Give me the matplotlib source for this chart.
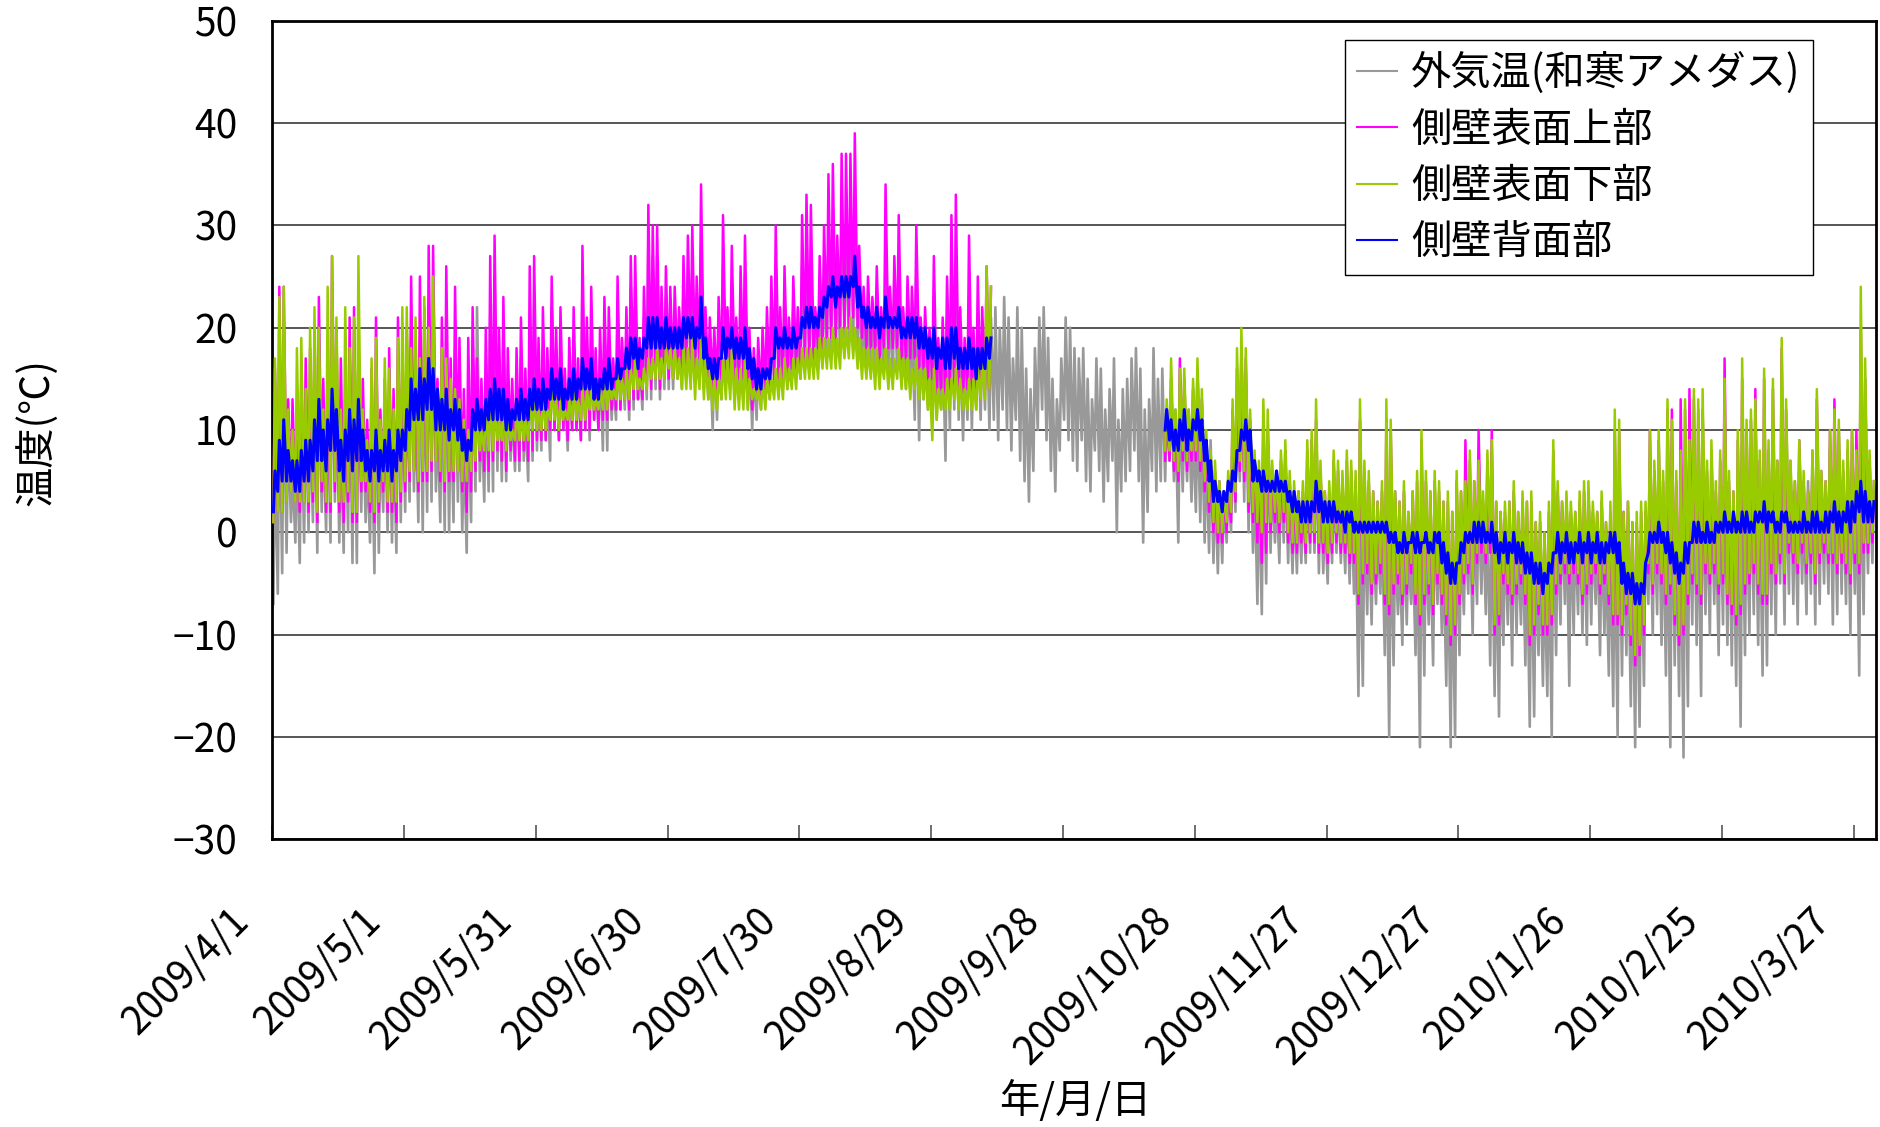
import numpy as np
import matplotlib
matplotlib.use('Agg')
import matplotlib.pyplot as plt
import matplotlib.dates as mdates
import matplotlib.transforms as mtransforms
from matplotlib.lines import Line2D
from datetime import datetime

plt.rcParams['font.family'] = ['Noto Sans CJK JP', 'DejaVu Sans']

# ---------------- data (daily low / high, deg C) ----------------
START = "2009/4/1"
END = "2010/4/1"
tick_labels = ["2009/4/1", "2009/5/1", "2009/5/31", "2009/6/30", "2009/7/30",
               "2009/8/29", "2009/9/28", "2009/10/28", "2009/11/27", "2009/12/27",
               "2010/1/26", "2010/2/25", "2010/3/27"]
y_ticks = [-30, -20, -10, 0, 10, 20, 30, 40, 50]
series_names = ["外気温(和寒アメダス)", "側壁表面上部", "側壁表面下部", "側壁背面部"]
series_colors = ["#999999", "#FF00FF", "#99CC00", "#0000FF"]

# outside air temperature, whole year (2009/4/1 .. 2010/3/31)
air_high = [
    8, 14, 16, 10, 6, 9, 12, 13, 11, 15, 17, 10, 14, 19, 15, 9, 13, 16, 14, 17, 12, 7, 11, 15, 9, 12, 13, 10, 15, 14,
    15, 20, 13, 19, 17, 22, 20, 11, 16, 20, 13, 18, 14, 9, 12, 17, 22, 12, 15, 21, 25, 17, 19, 14, 12, 15, 17, 12, 20, 22, 15,
    18, 15, 22, 17, 18, 14, 16, 19, 15, 24, 18, 20, 15, 17, 20, 18, 15, 21, 17, 19, 24, 24, 17, 21, 28, 27, 27, 21, 23, 22,
    22, 20, 24, 25, 26, 22, 28, 20, 18, 17, 20, 26, 20, 24, 19, 23, 25, 18, 16, 17, 18, 20, 23, 26, 20, 24, 19, 22, 20, 26, 27,
    26, 20, 23, 25, 28, 29, 25, 30, 29, 30, 31, 24, 21, 22, 21, 23, 20, 27, 22, 24, 26, 20, 22, 21, 25, 19, 20, 18, 23, 17, 19,
    21, 25, 26, 19, 17, 23, 18, 21, 19, 22, 21, 22, 20, 23, 21, 17, 22, 20, 16, 14, 18, 21, 22, 19, 15, 13, 17, 21, 20, 18,
    17, 18, 15, 13, 17, 16, 12, 14, 17, 11, 14, 15, 17, 18, 16, 12, 13, 18, 15, 16, 12, 14, 12, 13, 11, 12, 10, 12, 11, 8, 9,
    5, 4, 3, 5, 9, 13, 17, 15, 10, 6, 5, 8, 9, 5, 4, 6, 7, 4, 3, 3, 3, 6, 7, 9, 5, 2, 3, 5, 4, 3,
    4, 3, 2, 1, 2, 1, 0, -1, 1, 2, 0, -1, -2, 0, -2, -1, 1, 2, 0, -1, 1, 0, -2, -1, -3, 1, -1, 0, 2, 1, 3,
    2, 2, 3, -1, -2, 0, 1, 1, -1, 0, -1, 0, -3, -2, -4, -1, 2, 1, 2, 3, 1, 0, 2, 1, 2, 0, 1, 0, -2, 0, 1,
    3, -1, 0, -2, -2, -1, 0, 3, 2, 4, 2, 4, 5, 1, 3, 4, 3, 5, 4, 6, 3, 4, 2, 3, 6, 3, 2, 4,
    5, 4, 5, 6, 3, 6, 4, 5, 3, 7, 6, 7, 4, 6, 3, 5, 8, 7, 5, 4, 8, 6, 7, 4, 5, 6, 5, 8, 7, 5, 4]
air_low = [
    -7, -6, -4, -2, 1, -1, -3, -1, 0, 1, -2, 2, 0, -1, 3, -1, -2, 0, -3, -3, 2, 1, -1, -4, -2, 2, 0, -1, -2, 1,
    2, 3, 4, 1, 0, 2, 3, 4, 1, 0, 0, 1, 3, 0, -2, 1, 4, 5, 3, 4, 4, 6, 5, 5, 7, 6, 6, 7, 5, 7, 8,
    8, 9, 7, 10, 9, 10, 8, 10, 10, 9, 10, 9, 11, 10, 8, 8, 11, 11, 12, 12, 11, 12, 13, 12, 13, 13, 14, 13, 14, 14,
    14, 15, 14, 15, 16, 15, 15, 14, 13, 10, 11, 13, 15, 14, 13, 13, 14, 12, 10, 11, 12, 13, 13, 14, 14, 14, 14, 15, 15, 15, 16,
    16, 16, 16, 17, 17, 18, 18, 18, 19, 19, 19, 18, 17, 16, 16, 16, 15, 16, 16, 15, 16, 15, 14, 14, 11, 9, 13, 12, 12, 11, 12,
    7, 10, 12, 11, 9, 11, 10, 12, 11, 12, 10, 11, 9, 12, 10, 8, 11, 7, 5, 3, 6, 10, 12, 9, 6, 4, 8, 11, 9, 7,
    6, 9, 5, 4, 8, 6, 3, 5, 7, 0, 4, 5, 6, 8, 5, -1, 2, 6, 4, 5, 5, 7, 5, -1, 4, 5, 3, 2, 1, -1, -2,
    -3, -4, -3, -1, 0, 2, 5, 3, 0, -2, -7, -8, -5, -2, -1, -3, -1, -3, -4, -4, -3, -3, -2, -2, -4, -4, -5, -3, -2, -3,
    -4, -5, -6, -16, -15, -8, -9, -7, -6, -12, -20, -13, -8, -11, -9, -7, -12, -21, -14, -9, -13, -7, -10, -15, -21, -20, -12, -8, -6, -10, -7,
    -6, -8, -13, -16, -18, -11, -9, -13, -10, -9, -13, -19, -18, -12, -15, -16, -20, -12, -9, -7, -15, -10, -8, -10, -11, -9, -7, -12, -10, -14, -17,
    -20, -14, -12, -17, -21, -19, -15, -7, -10, -8, -11, -14, -21, -13, -16, -22, -17, -9, -11, -16, -8, -10, -7, -12, -9, -11, -13, -15,
    -19, -12, -10, -8, -11, -14, -13, -8, -10, -5, -9, -6, -7, -9, -5, -8, -6, -9, -7, -5, -6, -9, -8, -6, -7, -10, -6, -14, -8, -4, -3]

# wall sensors: period 1 = 2009/4/1 .. 2009/9/11, period 2 = 2009/10/21 .. 2010/3/31
P1_START = "2009/4/1"
P2_START = "2009/10/21"

upper_high_1 = [
    16, 24, 24, 13, 13, 9, 15, 17, 18, 20, 23, 15, 18, 27, 20, 17, 14, 21, 22, 18, 15, 11, 16, 21, 12, 15, 18, 14, 21, 17,
    20, 25, 18, 25, 22, 28, 28, 15, 21, 26, 17, 24, 19, 14, 19, 22, 17, 15, 20, 27, 29, 20, 23, 18, 15, 18, 21, 16, 26, 27, 19,
    22, 18, 25, 20, 22, 16, 19, 22, 17, 28, 21, 24, 18, 20, 23, 22, 17, 25, 19, 22, 27, 27, 19, 24, 32, 30, 30, 24, 26, 24,
    24, 22, 27, 29, 30, 25, 34, 22, 21, 20, 23, 31, 22, 28, 21, 26, 29, 20, 18, 19, 20, 22, 25, 30, 22, 26, 21, 25, 22, 31, 33,
    32, 22, 27, 30, 35, 36, 29, 37, 37, 37, 39, 28, 24, 25, 23, 26, 22, 34, 24, 27, 31, 22, 25, 24, 30, 21, 22, 20, 27, 19, 21,
    25, 31, 33, 22, 19, 29, 20, 25, 22, 26, 24]
upper_low_1 = [
    1, 2, 2, 3, 4, 3, 2, 3, 2, 3, 1, 4, 2, 2, 4, 2, 1, 3, 1, 1, 4, 4, 2, 1, 2, 4, 2, 2, 1, 3,
    4, 5, 6, 4, 5, 5, 6, 7, 5, 4, 5, 5, 6, 4, 2, 4, 6, 7, 6, 6, 7, 8, 7, 6, 8, 7, 7, 8, 7, 8, 9,
    9, 9, 10, 10, 9, 10, 9, 10, 10, 9, 10, 10, 11, 10, 11, 11, 12, 12, 12, 13, 12, 13, 13, 13, 14, 14, 15, 14, 15, 15,
    15, 16, 16, 16, 17, 16, 17, 16, 15, 14, 14, 15, 16, 16, 15, 15, 15, 14, 12, 13, 13, 14, 14, 15, 15, 15, 15, 16, 16, 16, 17,
    17, 17, 18, 18, 19, 19, 19, 20, 20, 20, 21, 20, 19, 18, 18, 18, 17, 18, 18, 18, 18, 17, 17, 17, 17, 16, 16, 15, 15, 13, 14,
    13, 14, 14, 14, 13, 14, 13, 13, 13, 14, 14]
lower_high_1 = [
    17, 23, 24, 12, 10, 18, 19, 14, 20, 22, 20, 12, 24, 27, 21, 12, 22, 18, 21, 27, 12, 9, 17, 19, 11, 17, 16, 12, 19, 22,
    22, 18, 21, 17, 23, 20, 25, 14, 18, 17, 15, 14, 13, 11, 10, 12, 11, 10, 12, 13, 12, 11, 13, 11, 10, 12, 12, 11, 13, 13, 12,
    13, 12, 14, 13, 13, 12, 13, 14, 13, 14, 14, 14, 13, 14, 15, 15, 14, 16, 15, 16, 16, 17, 15, 16, 17, 17, 18, 17, 18, 18,
    18, 17, 18, 18, 19, 17, 19, 17, 16, 15, 15, 17, 17, 18, 16, 16, 17, 15, 14, 14, 15, 15, 15, 16, 16, 17, 16, 17, 17, 18, 18,
    18, 18, 19, 19, 19, 20, 19, 20, 20, 21, 20, 19, 18, 18, 18, 18, 17, 18, 17, 17, 18, 17, 17, 16, 17, 16, 16, 15, 16, 14, 14,
    15, 15, 16, 15, 14, 15, 15, 16, 17, 26, 24]
lower_low_1 = [
    1, 2, 2, 3, 4, 3, 3, 3, 3, 4, 2, 5, 3, 3, 5, 3, 3, 4, 2, 2, 5, 5, 3, 2, 3, 5, 3, 3, 3, 4,
    5, 6, 6, 5, 6, 6, 7, 7, 6, 5, 6, 6, 6, 5, 5, 6, 7, 8, 8, 8, 8, 9, 9, 8, 9, 9, 9, 9, 9, 10, 10,
    10, 10, 11, 11, 10, 11, 11, 11, 11, 11, 11, 12, 12, 12, 12, 12, 13, 13, 13, 13, 13, 14, 14, 14, 14, 15, 15, 15, 15, 16,
    15, 15, 14, 14, 14, 13, 14, 13, 13, 12, 12, 13, 13, 13, 12, 12, 12, 12, 13, 13, 12, 12, 13, 13, 13, 13, 14, 14, 14, 15, 15,
    15, 15, 15, 16, 16, 16, 16, 16, 17, 17, 17, 16, 15, 15, 15, 14, 14, 15, 14, 14, 15, 14, 14, 13, 14, 13, 13, 12, 9, 11, 12,
    12, 12, 13, 12, 12, 12, 12, 12, 13, 13, 14]
back_high_1 = [
    6, 9, 11, 8, 7, 7, 8, 9, 9, 11, 13, 10, 11, 14, 12, 9, 10, 12, 11, 13, 10, 8, 8, 10, 8, 9, 10, 8, 10, 10,
    12, 15, 14, 16, 15, 17, 16, 14, 13, 14, 12, 13, 12, 10, 9, 12, 13, 12, 13, 14, 15, 14, 14, 13, 12, 13, 14, 13, 14, 15, 14,
    15, 14, 16, 15, 16, 14, 15, 16, 15, 17, 16, 17, 15, 15, 16, 17, 15, 17, 16, 18, 19, 19, 18, 19, 21, 21, 21, 20, 21, 20,
    20, 20, 21, 21, 21, 20, 23, 19, 17, 17, 17, 20, 19, 20, 19, 19, 20, 18, 17, 16, 16, 16, 17, 20, 19, 20, 19, 20, 19, 21, 22,
    22, 21, 22, 23, 24, 25, 24, 25, 25, 25, 27, 24, 22, 22, 21, 22, 21, 23, 21, 21, 22, 20, 21, 21, 21, 20, 20, 19, 20, 18, 19,
    19, 20, 20, 18, 18, 19, 18, 18, 18, 19, 19]
back_low_1 = [
    2, 4, 5, 5, 5, 4, 4, 5, 5, 6, 7, 7, 6, 8, 8, 6, 5, 7, 6, 7, 7, 6, 5, 6, 5, 6, 6, 5, 6, 7,
    8, 10, 11, 11, 11, 12, 12, 10, 10, 10, 9, 10, 9, 8, 7, 8, 10, 10, 10, 11, 11, 11, 11, 10, 10, 11, 11, 11, 11, 12, 12,
    12, 12, 13, 13, 13, 12, 13, 13, 13, 14, 14, 14, 13, 13, 14, 14, 14, 15, 15, 16, 16, 17, 16, 17, 18, 18, 18, 18, 18, 18,
    18, 18, 18, 19, 19, 18, 19, 17, 16, 15, 15, 17, 17, 18, 17, 17, 17, 16, 15, 14, 14, 15, 15, 17, 18, 18, 18, 18, 18, 19, 20,
    20, 20, 20, 21, 22, 23, 22, 23, 23, 23, 24, 22, 21, 20, 20, 20, 19, 20, 20, 20, 20, 19, 19, 19, 19, 18, 18, 17, 17, 16, 17,
    16, 16, 17, 16, 16, 16, 16, 15, 16, 16, 17]

upper_high_2 = [
    12, 15, 11, 17, 15, 11, 14, 16, 13, 9, 7,
    6, 5, 4, 5, 12, 16, 18, 17, 11, 7, 6, 11, 10, 6, 5, 7, 8, 5, 4, 4, 4, 8, 9, 11, 6, 4, 4, 7, 6, 5,
    7, 6, 5, 11, 6, 5, 4, 3, 4, 11, 10, 4, 3, 4, 2, 4, 5, 9, 5, 4, 5, 4, 3, 3, 2, 5, 4, 9, 7, 5, 10,
    3, 7, 10, 3, 2, 2, 3, 4, 2, 3, 3, 3, 1, 1, 0, 2, 8, 4, 3, 3, 2, 2, 3, 4, 4, 2, 2, 3, 1, 2, 10,
    10, 2, 3, 1, 1, 2, 2, 10, 6, 9, 5, 12, 12, 5, 13, 12, 14, 13, 12, 12, 6, 8, 4, 7, 17, 5, 4, 9,
    15, 10, 11, 14, 7, 15, 8, 14, 7, 18, 12, 6, 5, 9, 5, 4, 7, 13, 6, 5, 10, 13, 10, 6, 8, 10, 10, 20, 15, 7, 5]
upper_low_2 = [
    7, 7, 6, 5, 7, 6, 7, 7, 6, 4, 2,
    0, -1, -1, 0, 1, 3, 6, 5, 2, 1, -1, -3, -2, 0, 1, 0, 1, -1, -2, -2, -1, -2, -1, -1, -2, -2, -3, -2, -1, -2,
    -2, -3, -3, -7, -5, -4, -6, -5, -4, -7, -8, -6, -5, -7, -6, -4, -7, -9, -7, -6, -8, -5, -7, -9, -11, -10, -7, -5, -4, -6, -3,
    -2, -3, -2, -10, -9, -5, -6, -7, -6, -5, -7, -11, -10, -8, -10, -10, -9, -6, -5, -4, -5, -4, -5, -7, -6, -5, -4, -6, -5, -7, -9,
    -9, -10, -8, -11, -13, -12, -10, -4, -6, -4, -5, -7, -6, -9, -11, -10, -7, -5, -6, -7, -4, -5, -4, -6, -5, -7, -8, -9,
    -8, -6, -5, -4, -6, -7, -7, -4, -5, -3, -5, -2, -3, -4, -2, -4, -3, -5, -3, -2, -3, -3, -4, -3, -4, -5, -3, -4, -2, -2, -1]
lower_high_2 = [
    13, 17, 12, 16, 16, 12, 15, 17, 14, 10, 8,
    7, 5, 4, 6, 13, 18, 20, 18, 12, 8, 7, 13, 12, 7, 6, 8, 9, 6, 5, 4, 5, 9, 10, 13, 7, 4, 5, 8, 7, 6,
    8, 7, 6, 13, 7, 6, 4, 3, 5, 13, 11, 4, 3, 5, 2, 4, 6, 10, 6, 4, 6, 5, 3, 4, 2, 6, 4, 5, 8, 5, 7,
    4, 8, 9, 3, 2, 3, 3, 5, 2, 4, 3, 4, 1, 2, 0, 3, 9, 5, 3, 4, 3, 2, 4, 5, 5, 3, 2, 4, 1, 3, 12,
    11, 2, 3, 1, 2, 3, 3, 10, 7, 10, 6, 13, 11, 6, 8, 13, 9, 14, 13, 14, 7, 9, 5, 8, 15, 6, 4, 10,
    17, 11, 12, 13, 8, 16, 9, 15, 7, 19, 13, 7, 5, 9, 6, 4, 8, 14, 6, 5, 10, 12, 11, 7, 9, 10, 8, 24, 17, 8, 5]
lower_low_2 = [
    8, 8, 7, 6, 8, 7, 8, 8, 7, 5, 3,
    1, 0, 0, 1, 2, 4, 7, 6, 3, 2, 1, 0, 1, 1, 2, 1, 2, 0, -1, -1, 0, -1, 0, 0, -1, -1, -2, -1, 0, -1,
    -1, -2, -2, -6, -4, -3, -5, -4, -3, -6, -7, -5, -4, -6, -5, -3, -6, -8, -6, -5, -7, -4, -6, -8, -10, -9, -6, -4, -3, -5, -2,
    -1, -2, -1, -9, -8, -4, -5, -6, -5, -4, -6, -10, -9, -7, -9, -9, -8, -5, -4, -3, -4, -3, -4, -6, -5, -4, -3, -5, -4, -6, -8,
    -8, -9, -7, -10, -12, -11, -9, -3, -5, -3, -4, -6, -5, -8, -10, -9, -6, -4, -5, -6, -3, -4, -3, -5, -4, -6, -7, -8,
    -7, -5, -4, -3, -5, -6, -6, -3, -4, -2, -4, -1, -2, -3, -1, -3, -2, -4, -2, -1, -2, -2, -3, -2, -3, -4, -2, -3, -1, -1, 0]
back_high_2 = [
    12, 11, 10, 11, 12, 10, 11, 12, 11, 9, 7,
    5, 4, 4, 5, 6, 8, 10, 11, 10, 7, 6, 6, 5, 5, 6, 5, 5, 4, 4, 3, 3, 3, 3, 5, 4, 3, 3, 3, 2, 2,
    2, 2, 1, 1, 1, 1, 1, 1, 1, 1, 0, 0, -1, 0, -1, 0, 0, -1, 0, -1, 0, 0, -1, -2, -3, -3, -1, 0, 0, 1, 1,
    1, 0, 1, 0, -1, 0, -1, 0, -1, -1, -2, -2, -3, -3, -4, -3, -2, 0, -1, 0, -1, -1, 0, -1, 0, -1, 0, -1, -1, 0, 0,
    -1, -3, -4, -4, -5, -5, -3, 0, 0, 1, 0, 0, -1, -2, -3, -1, -1, 1, 1, 0, 1, 0, 1, 1, 2, 1, 2, 1,
    2, 2, 1, 2, 2, 3, 2, 2, 1, 2, 2, 1, 1, 1, 2, 1, 2, 2, 1, 2, 2, 3, 2, 2, 3, 3, 4, 5, 4, 3, 3]
back_low_2 = [
    10, 9, 8, 8, 9, 8, 9, 10, 9, 7, 5,
    3, 3, 2, 3, 4, 5, 8, 9, 8, 5, 5, 4, 4, 4, 4, 4, 4, 3, 2, 2, 1, 1, 1, 2, 2, 1, 1, 1, 1, 1,
    0, 1, 0, 0, 0, 0, 0, 0, 0, 0, -1, -1, -2, -2, -2, -1, -2, -2, -1, -2, -2, -1, -3, -4, -5, -5, -3, -2, -1, -1, -1,
    -1, -1, -1, -2, -3, -2, -3, -2, -3, -3, -4, -4, -5, -5, -6, -5, -4, -2, -3, -2, -3, -3, -2, -3, -2, -3, -2, -3, -3, -2, -2,
    -3, -5, -6, -6, -7, -7, -6, -2, -1, -1, -1, -2, -3, -4, -5, -4, -3, -1, -1, -1, -1, -1, -1, 0, 0, 0, 0, 0,
    0, 0, 0, 0, 1, 1, 0, 1, 0, 0, 1, 0, 0, 0, 0, 0, 0, 0, 0, 0, 0, 1, 0, 0, 1, 0, 1, 2, 1, 1, 1]


# ---------------- helpers ----------------
def dnum(s):
    return mdates.date2num(datetime.strptime(s, "%Y/%m/%d"))


def daily_trace(start, lows, highs):
    """Daily low (early morning) and high (afternoon) as a time-ordered trace."""
    base = dnum(start)
    n = len(lows)
    days = base + np.arange(n)
    x = np.empty(2 * n)
    y = np.empty(2 * n)
    x[0::2] = days + 0.25
    x[1::2] = days + 0.60
    y[0::2] = np.asarray(lows, float)
    y[1::2] = np.asarray(highs, float)
    return x, y


def two_period(lo1, hi1, lo2, hi2):
    x1, y1 = daily_trace(P1_START, lo1, hi1)
    x2, y2 = daily_trace(P2_START, lo2, hi2)
    return (np.concatenate([x1, [np.nan], x2]),
            np.concatenate([y1, [np.nan], y2]))


# ---------------- figure ----------------
W, H = 1881, 1127
fig = plt.figure(figsize=(W / 100, H / 100), dpi=100)
ax = fig.add_axes([272.3 / W, 1 - 839.3 / H, (1875.7 - 272.3) / W, (839.3 - 20.7) / H])

xa, ya = daily_trace(START, air_low, air_high)
ax.plot(xa, ya, color=series_colors[0], lw=1.9, zorder=2)
xu, yu = two_period(upper_low_1, upper_high_1, upper_low_2, upper_high_2)
ax.plot(xu, yu, color=series_colors[1], lw=1.8, zorder=3)
xl, yl = two_period(lower_low_1, lower_high_1, lower_low_2, lower_high_2)
ax.plot(xl, yl, color=series_colors[2], lw=1.8, zorder=4)
xb, yb = two_period(back_low_1, back_high_1, back_low_2, back_high_2)
ax.plot(xb, yb, color=series_colors[3], lw=2.2, zorder=5)

ax.set_xlim(dnum(START), dnum(END))
ax.set_ylim(-30, 50)
ax.set_yticks(y_ticks)
ax.yaxis.grid(True, color='#3a3a3a', lw=1.2)
ax.set_axisbelow(True)

ax.set_xticks([dnum(s) for s in tick_labels])
ax.set_xticklabels(tick_labels, rotation=45, ha='right', va='center',
                   rotation_mode='anchor', fontsize=28)
ax.tick_params(axis='x', direction='in', length=10, width=1.2, color='#555555', pad=54)
ax.tick_params(axis='y', length=0, pad=25, labelsize=28)
off = mtransforms.ScaledTranslation(-30 / 100, 0, fig.dpi_scale_trans)
for lab in ax.get_xticklabels():
    lab.set_transform(lab.get_transform() + off)

for sp in ax.spines.values():
    sp.set_linewidth(2.0)
    sp.set_color('black')

fig.text(36 / W, 1 - 432 / H, "温度(℃)", rotation=90, ha='center', va='center', fontsize=29)
fig.text(1075 / W, 1 - 1101 / H, "年/月/日", ha='center', va='center', fontsize=29)

handles = [Line2D([], [], color=c, lw=1.5) for c in series_colors]
leg = ax.legend(handles, series_names, loc='upper right',
                bbox_to_anchor=(1813 / W, 1 - 40 / H), bbox_transform=fig.transFigure,
                borderaxespad=0, fontsize=29, frameon=True, fancybox=False,
                framealpha=1, edgecolor='black', handlelength=1.0,
                handletextpad=0.35, labelspacing=0.38, borderpad=0.3)
leg.get_frame().set_linewidth(1.0)
leg.set_zorder(10)

fig.savefig("out.png", dpi=100)
